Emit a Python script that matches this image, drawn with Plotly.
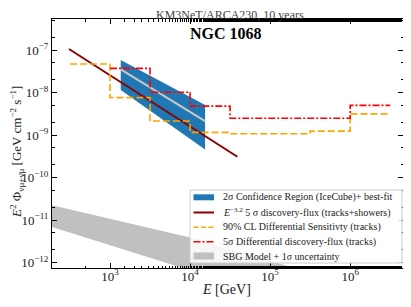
import plotly.graph_objects as go

# ---------------- data ----------------
# IceCube 2-sigma confidence region + best fit
ic_energy = [1360, 15400]
ic_upper = [5.8e-8, 5.1e-9]
ic_lower = [1.15e-8, 4.6e-10]
ic_bestfit = [3.5e-8, 2.14e-9]

# E^-3.2 5 sigma discovery flux (tracks+showers)
disc_energy = [307, 39000]
disc_flux = [1.06e-7, 3.1e-10]

# 90% CL differential sensitivity (tracks)
sens_edges = [316, 1000, 3160, 10000, 31600, 100000, 316000, 1000000, 3160000]
sens_values = [4.7e-8, 7.6e-9, 2.14e-9, 1.16e-9, 1.08e-9, 1.08e-9, 1.24e-9, 3.16e-9]

# 5 sigma differential discovery flux (tracks)
ddisc_edges = [1000, 3160, 10000, 31600, 100000, 316000, 1000000, 3160000]
ddisc_values = [3.7e-8, 1.02e-8, 4.8e-9, 2.5e-9, 2.5e-9, 2.5e-9, 5.0e-9]

# SBG model + 1 sigma uncertainty
sbg_energy = [100, 10000, 200000, 10000000]
sbg_upper = [2.98e-11, 3.9e-12, 7.5e-13, 8.7e-14]
sbg_lower = [1.0e-11, 6.6e-13, 1.15e-13, 1.1e-14]

x_ticks = [1e3, 1e4, 1e5, 1e6]
x_ticktext = ["10<sup>3</sup>", "10<sup>4</sup>", "10<sup>5</sup>", "10<sup>6</sup>"]
y_ticks = [1e-12, 1e-11, 1e-10, 1e-9, 1e-8, 1e-7]
y_ticktext = ["10<sup>−12</sup>", "10<sup>−11</sup>", "10<sup>−10</sup>",
              "10<sup>−9</sup>", "10<sup>−8</sup>", "10<sup>−7</sup>"]

legend_labels = [
    "2σ Confidence Region (IceCube)+ best-fit",
    "<i>E</i><sup>−3.2</sup> 5 σ discovery-flux (tracks+showers)",
    "90% CL Differential Sensitivty (tracks)",
    "5σ Differential discovery-flux (tracks)",
    "SBG Model + 1σ uncertainty",
]

FONT = "Liberation Serif"
OFF = 8  # page body margin in the browser
W, H = 403, 299
ML, MT = 52 - OFF, 19 - OFF
PW, PH = 351, 249
MR = W - ML - PW
MB = H - MT - PH


def px(xp):
    """screen x pixel -> paper x"""
    return (xp - OFF - ML) / PW


def py(yp):
    """screen y pixel -> paper y"""
    return (MT + PH - (yp - OFF)) / PH


fig = go.Figure()

# SBG band
fig.add_trace(go.Scatter(
    x=sbg_energy + sbg_energy[::-1], y=sbg_upper + sbg_lower[::-1],
    fill="toself", fillcolor="#c0c0c0", line=dict(width=0, color="#c0c0c0"),
    mode="lines", showlegend=False,
))

# IceCube band
fig.add_trace(go.Scatter(
    x=ic_energy + ic_energy[::-1], y=ic_upper + ic_lower[::-1],
    fill="toself", fillcolor="#1f77b4", line=dict(width=0, color="#1f77b4"),
    mode="lines", showlegend=False,
))
fig.add_trace(go.Scatter(
    x=ic_energy, y=ic_bestfit, mode="lines",
    line=dict(color="#c8c8c8", width=2), showlegend=False,
))

# E^-3.2 discovery flux
fig.add_trace(go.Scatter(
    x=disc_energy, y=disc_flux, mode="lines",
    line=dict(color="#8b0000", width=2), showlegend=False,
))

# sensitivity steps
fig.add_trace(go.Scatter(
    x=sens_edges, y=sens_values + [sens_values[-1]], mode="lines",
    line=dict(color="#ffa500", width=1.6, dash="7px,3px", shape="hv"),
    showlegend=False,
))

# differential discovery steps
fig.add_trace(go.Scatter(
    x=ddisc_edges, y=ddisc_values + [ddisc_values[-1]], mode="lines",
    line=dict(color="#ff0000", width=1.6, dash="7px,2px,2px,2px", shape="hv"),
    showlegend=False,
))

axis_common = dict(
    type="log", showgrid=False, zeroline=False, automargin=False,
    showline=True, linecolor="black", linewidth=1, mirror="allticks",
    ticks="inside", ticklen=5, tickwidth=1, tickcolor="black",
    minor=dict(ticks="inside", ticklen=2.5, tickwidth=0.8, tickcolor="black"),
    tickfont=dict(family=FONT, size=13, color="#222"),
)

fig.update_xaxes(**axis_common, range=[2.275, 6.66],
                 tickvals=x_ticks, ticktext=x_ticktext, ticklabelstandoff=-4)
fig.update_yaxes(**axis_common, range=[-12.125, -6.27],
                 tickvals=y_ticks, ticktext=y_ticktext)

# ---------- manual legend ----------
shapes = [dict(type="rect", xref="paper", yref="paper",
               x0=px(190), x1=px(402), y0=py(263), y1=py(190),
               line=dict(color="#cccccc", width=1),
               fillcolor="rgba(255,255,255,0.85)", layer="above")]
rows = [197.3, 212.5, 227.2, 241.7, 256.0]
sx0, sx1 = px(193.5), px(214)
shapes.append(dict(type="rect", xref="paper", yref="paper", x0=sx0, x1=sx1,
                   y0=py(rows[0] + 3), y1=py(rows[0] - 3),
                   fillcolor="#1f77b4", line=dict(width=0), layer="above"))
shapes.append(dict(type="line", xref="paper", yref="paper", x0=sx0, x1=sx1,
                   y0=py(rows[1]), y1=py(rows[1]),
                   line=dict(color="#8b0000", width=2), layer="above"))
shapes.append(dict(type="line", xref="paper", yref="paper", x0=sx0, x1=sx1,
                   y0=py(rows[2]), y1=py(rows[2]),
                   line=dict(color="#ffa500", width=1.6, dash="5px,2.5px"), layer="above"))
shapes.append(dict(type="line", xref="paper", yref="paper", x0=sx0, x1=sx1,
                   y0=py(rows[3]), y1=py(rows[3]),
                   line=dict(color="#ff0000", width=1.6, dash="7px,2px,2px,2px"), layer="above"))
shapes.append(dict(type="rect", xref="paper", yref="paper", x0=sx0, x1=sx1,
                   y0=py(rows[4] + 3.5), y1=py(rows[4] - 3.5),
                   fillcolor="#c0c0c0", line=dict(width=0), layer="above"))

annotations = []
for r, lab in zip(rows, legend_labels):
    annotations.append(dict(text=lab, xref="paper", yref="paper",
                            x=px(221), y=py(r), xanchor="left", yanchor="middle",
                            showarrow=False,
                            font=dict(family=FONT, size=10, color="#222")))

annotations += [
    dict(text="KM3NeT/ARCA230, 10 years", xref="paper", yref="paper",
         x=px(230), y=py(15.2), xanchor="center", yanchor="middle", showarrow=False,
         font=dict(family=FONT, size=12, color="#444")),
    dict(text="<b>NGC 1068</b>", xref="paper", yref="paper",
         x=px(226), y=py(34), xanchor="center", yanchor="middle", showarrow=False,
         font=dict(family=FONT, size=16, color="black")),
    dict(text="<i>E</i> [GeV]", xref="paper", yref="paper",
         x=px(226), y=py(289), xanchor="center", yanchor="middle", showarrow=False,
         font=dict(family=FONT, size=14, color="#222")),
    dict(text="<i>E</i><sup>2</sup> Φ<sub>νμ+ν̄μ</sub> [GeV cm<sup>−2</sup> s<sup>−1</sup>]",
         xref="paper", yref="paper", x=px(17), y=py(152), textangle=-90,
         xanchor="center", yanchor="middle", showarrow=False,
         font=dict(family=FONT, size=13, color="#222")),
]

fig.update_layout(
    width=W, height=H,
    margin=dict(l=ML, r=MR, t=MT, b=MB, autoexpand=False),
    paper_bgcolor="white", plot_bgcolor="white",
    font=dict(family=FONT, color="#222"),
    showlegend=False,
    shapes=shapes,
    annotations=annotations,
)

fig.write_html("out.html")
